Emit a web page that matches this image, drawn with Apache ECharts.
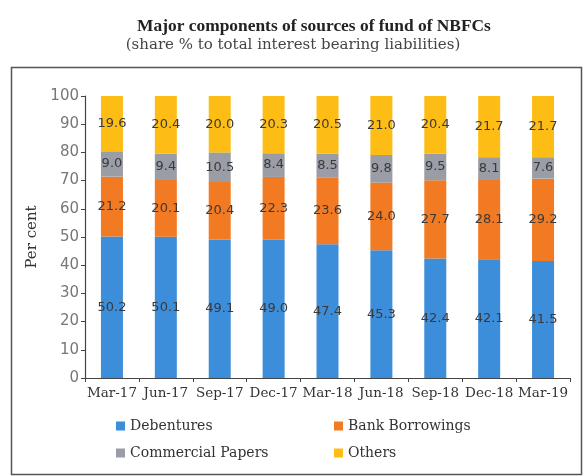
<!DOCTYPE html>
<html><head><meta charset="utf-8">
<script src="https://cdn.jsdelivr.net/npm/echarts@6/dist/echarts.min.js"></script>
<style>html,body{margin:0;padding:0;background:#fff}#c{width:584px;height:476px}</style>
</head><body><div id="c"></div>
<script>
const categories = ['Mar-17','Jun-17','Sep-17','Dec-17','Mar-18','Jun-18','Sep-18','Dec-18','Mar-19'];
const debentures = [50.2, 50.1, 49.1, 49.0, 47.4, 45.3, 42.4, 42.1, 41.5];
const bankBorrowings = [21.2, 20.1, 20.4, 22.3, 23.6, 24.0, 27.7, 28.1, 29.2];
const commercialPapers = [9.0, 9.4, 10.5, 8.4, 8.5, 9.8, 9.5, 8.1, 7.6];
const others = [19.6, 20.4, 20.0, 20.3, 20.5, 21.0, 20.4, 21.7, 21.7];
const yTicks = [0,10,20,30,40,50,60,70,80,90,100];

const serif = '"DejaVu Serif", "Liberation Serif", serif';
const titleSerif = '"Liberation Serif", "DejaVu Serif", serif';
const sans = '"DejaVu Sans", "Liberation Sans", sans-serif';
const colors = ['#3C8DDA', '#F27A22', '#9A9DA5', '#FDBD14'];
const names = ['Debentures','Bank Borrowings','Commercial Papers','Others'];
const values = [debentures, bankBorrowings, commercialPapers, others];

const chart = echarts.init(document.getElementById('c'), null, {renderer:'canvas'});
chart.setOption({
  animation: false,
  color: colors,
  graphic: [{
    type: 'rect', left: 9, top: 65, shape: {width: 570, height: 407},
    style: {fill: 'none', stroke: '#555', lineWidth: 1.5}, z: -1
  }],
  title: [{
    text: 'Major components of sources of fund of NBFCs',
    left: 309, top: 13, textAlign: 'center',
    textStyle: {fontFamily: titleSerif, fontWeight: 'bold', fontSize: 17.4, color: '#222'}
  },{
    text: '(share % to total interest bearing liabilities)',
    left: 288, top: 33, textAlign: 'center',
    textStyle: {fontFamily: serif, fontWeight: 'normal', fontSize: 15, color: '#444'}
  }],
  legend: [{
    data: ['Debentures','Commercial Papers'], orient: 'vertical', left: 111, top: 414,
    itemWidth: 9, itemHeight: 9, itemGap: 13, icon: 'rect',
    textStyle: {fontFamily: serif, fontSize: 14, color: '#333'}
  },{
    data: ['Bank Borrowings','Others'], orient: 'vertical', left: 329, top: 414,
    itemWidth: 9, itemHeight: 9, itemGap: 13, icon: 'rect',
    textStyle: {fontFamily: serif, fontSize: 14, color: '#333'}
  }],
  grid: {left: 85, right: 14, top: 96, bottom: 98},
  xAxis: {
    type: 'category', data: categories,
    axisLine: {lineStyle: {color: '#444', width: 1.2}},
    axisTick: {show: true, length: 4, lineStyle: {color: '#444'}},
    axisLabel: {fontFamily: serif, fontSize: 13.5, color: '#333', margin: 8, interval: 0}
  },
  yAxis: {
    type: 'value', min: 0, max: 100, interval: 10,
    name: 'Per cent', nameLocation: 'middle', nameGap: 44,
    nameTextStyle: {fontFamily: serif, fontSize: 15, color: '#333'},
    axisLine: {show: true, lineStyle: {color: '#444', width: 1.2}},
    axisTick: {show: true, length: 4, lineStyle: {color: '#444'}},
    splitLine: {show: false},
    axisLabel: {fontFamily: sans, fontSize: 15, color: '#777', margin: 6,
      formatter: v => yTicks.includes(v) ? String(v) : ''}
  },
  series: names.map((n, i) => ({
    name: n, type: 'bar', stack: 'total', barWidth: 22,
    data: values[i],
    itemStyle: {borderWidth: 0},
    label: {show: true, position: 'inside', fontFamily: sans, fontSize: 13, color: '#3a3a3a',
      formatter: p => p.value.toFixed(1)}
  }))
});
</script></body></html>
